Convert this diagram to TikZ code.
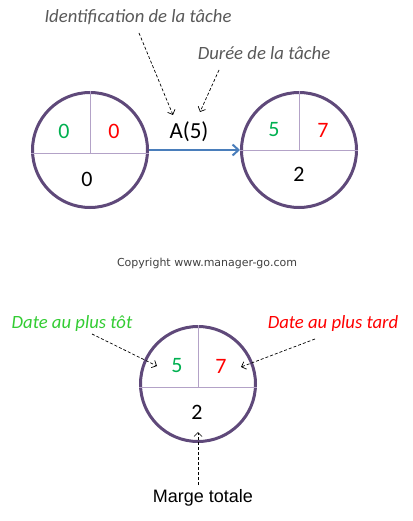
\documentclass[tikz,border=0pt]{standalone}
\usepackage{fontspec}
\setmainfont{Carlito}
\newfontfamily\arialfont{Liberation Sans}
\newfontfamily\verdanafont{DejaVu Sans}
\usetikzlibrary{arrows.meta}

\definecolor{eventpurple}{HTML}{5F497A}
\definecolor{splitlilac}{HTML}{B3A2C7}
\definecolor{linkblue}{HTML}{4A7EBB}
\definecolor{earlygreen}{HTML}{00B050}
\definecolor{latered}{HTML}{FF0000}
\definecolor{notegray}{HTML}{595959}
\definecolor{tipgreen}{HTML}{33CC33}

\begin{document}
\begin{tikzpicture}[x=1pt,y=-1pt,
    event/.style={circle, draw=eventpurple, line width=3pt, minimum size=115pt, inner sep=0pt},
    split/.style={draw=splitlilac, line width=0.9pt},
    digit/.style={font=\fontsize{22}{22}\selectfont},
    early/.style={digit, text=earlygreen},
    late/.style={digit, text=latered},
    note/.style={font=\fontsize{18.7}{18.7}\selectfont\itshape, text=notegray},
    pointer/.style={-{Straight Barb[length=4pt,width=8pt]}, dash pattern=on 3pt off 2pt, line width=0.7pt},
  ]
    \useasboundingbox (0,0) rectangle (412,521);

    % First, locate the two events and the task between them
    \node [event] (start) at (90,150) {};
    \node [event] (end)   at (299,150) {};
    \node [font=\fontsize{23}{23}\selectfont] (task) at (189,132) {A(5)};

    \draw [split] ([yshift=-3pt]start.west) -- ([yshift=-3pt]start.east);
    \draw [split] (start.north) -- ([yshift=-3pt]start.center);
    \draw [split] (end.west) -- (end.east);
    \draw [split] (end.north) -- (end.center);

    \node [early] (start early) at (64,131)  {0};
    \node [late]  (start late)  at (114,131) {0};
    \node [digit] (start slack) at (87,179)  {0};
    \node [early] (end early)   at (274,130) {5};
    \node [late]  (end late)    at (323,130) {7};
    \node [digit] (end slack)   at (299,174) {2};

    % Now draw the task link:
    \draw [linkblue, line width=2pt, -{Straight Barb[length=6pt,width=11pt]}] (start.east) -- (end.west);

    % Notes on the task
    \node [note] (task id)  at (138,17) {Identification de la tâche};
    \node [note] (task dur) at (264,53) {Durée de la tâche};
    \coordinate (id from)  at (139,33);
    \coordinate (id to)    at (173,115);
    \coordinate (dur from) at (219,70);
    \coordinate (dur to)   at (200,112);
    \draw [pointer] (id from) -- (id to);
    \draw [pointer] (dur from) -- (dur to);

    \node [font=\verdanafont\fontsize{11}{11}\selectfont, text=black!75] (copyright) at (207,263) {Copyright www.manager-go.com};

    % The legend event
    \node [event] (legend) at (198,384) {};
    \draw [split] ([yshift=-3pt]legend.west) -- ([yshift=-3pt]legend.east);
    \draw [split] (legend.north) -- ([yshift=-3pt]legend.center);
    \node [early] (legend early) at (177,366) {5};
    \node [late]  (legend late)  at (221,366) {7};
    \node [digit] (legend slack) at (197,412) {2};

    \node [note, text=tipgreen] (early note) at (72,324)  {Date au plus tôt};
    \node [note, text=latered]  (late note)  at (333,324) {Date au plus tard};
    \node [font=\arialfont\fontsize{18}{18}\selectfont] (slack note) at (203,498) {Marge totale};
    \coordinate (early from) at (92,334);
    \coordinate (early to)   at (157,366);
    \coordinate (late from)  at (315,339);
    \coordinate (late to)    at (241,367);
    \coordinate (slack from) at (198,485);
    \coordinate (slack to)   at (198,432);
    \draw [pointer] (early from) -- (early to);
    \draw [pointer] (late from) -- (late to);
    \draw [pointer] (slack from) -- (slack to);
\end{tikzpicture}
\end{document}
